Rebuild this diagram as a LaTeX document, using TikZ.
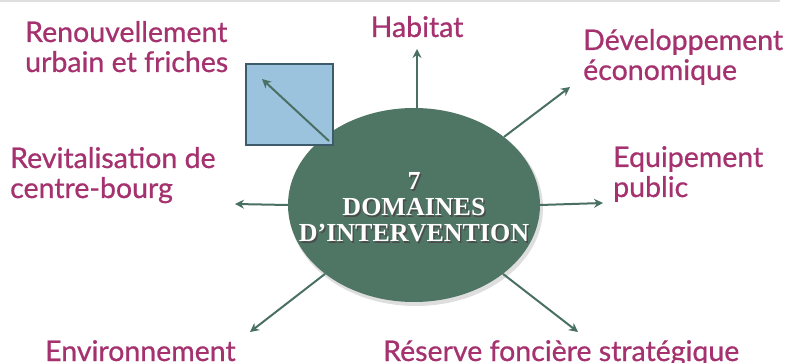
\documentclass[tikz,border=0pt]{standalone}
\usepackage{fontspec}
\setmainfont{Lato}
\newfontfamily\labfont{Lato}[FakeBold=0.7]
\newfontfamily\serifbold{Liberation Serif}
\usetikzlibrary{shapes.geometric,arrows.meta}
\definecolor{lbl}{HTML}{A5326F}
\definecolor{core}{HTML}{4F7565}
\definecolor{arr}{HTML}{4A7063}
\definecolor{sqfill}{HTML}{9CC3DD}
\definecolor{sqline}{HTML}{3E5B6B}
\tikzset{
  lab/.style={text=lbl, font=\labfont\fontsize{28.5}{30}\selectfont, align=left, inner sep=0pt},
  ray/.style={draw=arr, line width=2pt, -{Stealth[length=9pt,width=9pt]}},
  coretext/.style={font=\serifbold\bfseries\fontsize{26}{26}\selectfont, align=center, inner sep=0pt}
}
\begin{document}
\begin{tikzpicture}[x=1pt,y=-1pt]
\useasboundingbox (0,0) rectangle (790,363);
\fill[white] (0,0) rectangle (790,363);
\draw[gray!25, line width=2pt] (0,1) -- (780,1);
% core ellipse with soft shadow
\fill[black!25, opacity=0.5] (416,208) ellipse [x radius=127, y radius=98];
\node[ellipse, fill=core, minimum width=252pt, minimum height=194pt, inner sep=0pt] (c) at (414,205) {};
\node[coretext, text=black!70, anchor=base] at (415.5,243.5) {7\\DOMAINES\\D’INTERVENTION};
\node[coretext, text=white, anchor=base] (ct) at (414,242) {7\\DOMAINES\\D’INTERVENTION};
% square
\node[draw=sqline, fill=sqfill, line width=2pt, minimum width=87pt, minimum height=81pt, inner sep=0pt] (sq) at (289.5,104.5) {};
\coordinate (sqa) at (329,141);
\coordinate (sqb) at (262,79);
\draw[ray] (sqa) -- (sqb);
% arrow ends
\coordinate (e1) at (417,49);
\coordinate (e2) at (570,87);
\coordinate (e3) at (603,203);
\coordinate (e4) at (578,332);
\coordinate (e5) at (250,332);
\coordinate (e6) at (235,204);
\draw[ray] (417,108) -- (e1);
\draw[ray] (c) -- (e2);
\draw[ray] (c.east) -- (e3);
\draw[ray] (c) -- (e4);
\draw[ray] (c) -- (e5);
\draw[ray] (c.west) -- (e6);
% labels
\node[lab, anchor=base] (habitat) at (417,37) {Habitat};
\node[lab, anchor=base west] (renouv) at (25,72) {Renouvellement\\urbain et friches};
\node[lab, anchor=base west] (dev) at (583,80) {Développement\\économique};
\node[lab, anchor=base west] (revit) at (10,198) {Revitalisation de\\centre-bourg};
\node[lab, anchor=base west] (equip) at (613,197) {Equipement\\public};
\node[lab, anchor=base west] (env) at (45,361) {Environnement};
\node[lab, anchor=base west] (res) at (383,361) {Réserve foncière stratégique};
\end{tikzpicture}
\end{document}
